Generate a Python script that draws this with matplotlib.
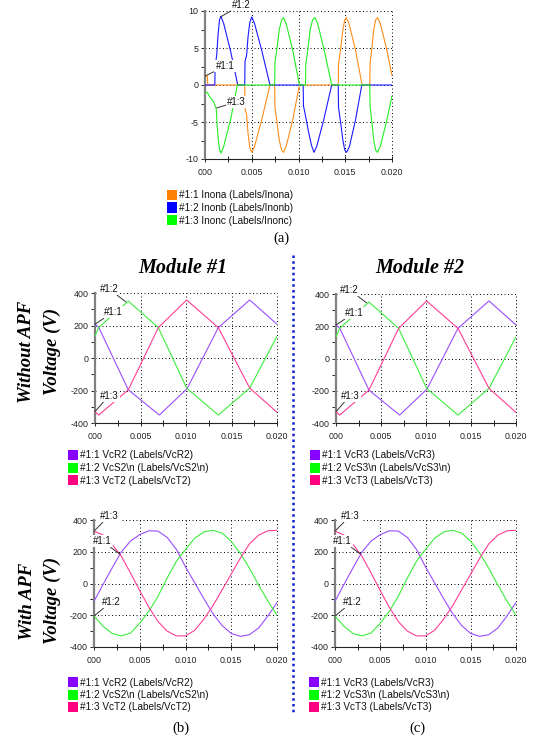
import matplotlib
matplotlib.use('Agg')
import numpy as np
import matplotlib.pyplot as plt
from matplotlib.patches import Rectangle
from matplotlib.lines import Line2D
from matplotlib.ticker import MultipleLocator

plt.rcParams['font.family'] = ['Liberation Sans', 'DejaVu Sans']
plt.rcParams['axes.unicode_minus'] = False

W, H = 536, 737

# ---- (a) supply currents, time in ms ----
t_inona = [0, 0.25, 0.3, 4.25, 4.28, 4.45, 4.6, 4.8, 5.0, 5.3, 6.1, 6.95, 7.45, 7.48, 7.7, 7.95, 8.2, 8.4,
           8.7, 9.4, 10.1, 14.25, 14.28, 14.5, 14.75, 14.95, 15.1, 15.4, 16.1, 16.8, 17.62, 17.66, 17.85,
           18.05, 18.25, 18.45, 18.75, 19.4, 20.0]
inona = [1.2, 1.2, 0, 0, -3.2, -4.0, -6.5, -8.5, -9.1, -8.3, -4.5, 0, 0, -3.0, -5.0, -7.5, -8.8, -9.1,
         -8.2, -4.6, 0, 0, 2.8, 4.8, 7.5, 8.8, 9.1, 8.3, 4.7, 0, 0, 3.0, 5.0,
         7.5, 8.8, 9.1, 8.3, 5.0, 1.3]

t_inonb = [0, 1.05, 1.08, 1.25, 1.4, 1.55, 1.7, 2.0, 2.75, 3.5, 4.25, 4.28, 4.45, 4.6, 4.8, 5.0, 5.3,
           6.1, 6.95, 10.5, 10.53, 10.8, 11.1, 11.4, 11.66, 11.95, 12.7, 13.55, 14.25, 14.28, 14.5,
           14.75, 14.95, 15.15, 15.45, 16.1, 16.77, 20.0]
inonb = [0, 0, 2.5, 4.0, 6.8, 8.8, 9.3, 8.3, 4.5, 0, 0, 3.2, 4.0, 6.5, 8.5, 9.2, 8.3,
         4.5, 0, 0, -2.8, -4.5, -6.5, -8.2, -9.1, -8.3, -4.7, 0, 0, -3.0, -5.0,
         -7.5, -8.8, -9.1, -8.3, -4.7, 0, 0]

t_inonc = [0, 0.25, 0.5, 0.9, 1.2, 1.3, 1.45, 1.6, 1.72, 2.0, 2.75, 3.45, 7.45, 7.48, 7.7, 7.95, 8.2,
           8.4, 8.7, 9.4, 10.1, 10.75, 10.78, 11.0, 11.25, 11.5, 11.75, 12.05, 12.75, 13.55, 17.62,
           17.66, 17.85, 18.05, 18.25, 18.45, 18.75, 19.4, 20.0]
inonc = [-1.0, -1.0, -1.6, -2.2, -3.2, -5.5, -7.8, -8.9, -9.2, -8.3, -4.6, 0, 0, 3.0, 5.0, 7.5, 8.8,
         9.1, 8.2, 4.6, 0, 0, 2.8, 4.8, 7.5, 8.8, 9.1, 8.3, 4.7, 0, 0,
         -3.0, -5.0, -7.5, -8.8, -9.1, -8.3, -5.0, -1.5]

# ---- capacitor voltages without APF (corner points, ms / V) ----
t_wo_r = [0, 0.4, 3.66, 7.07, 10.1, 13.55, 17.0, 20.0]
wo_r = [208, 190, -196, -351, -190, 187, 357, 208]
t_wo_s = [0, 0.4, 3.66, 6.96, 10.07, 13.55, 17.0, 20.0]
wo_s = [134, 187, 350, 187, -185, -351, -185, 134]
t_wo_t = [0, 0.4, 3.66, 6.96, 10.07, 13.55, 17.0, 20.0]
wo_t = [-330, -351, -196, 187, 357, 187, -185, -334]

# ---- capacitor voltages with APF (every 1 ms) ----
t_w = list(range(21))
w_r = [-112, -5, 100, 200, 268, 308, 332, 330, 290, 215, 105, 5, -95, -190, -265, -315, -333,
       -322, -280, -205, -120]
w_s = [-205, -270, -315, -330, -312, -250, -175, -80, 35, 140, 215, 285, 325, 335, 318, 265, 190,
       95, -10, -110, -200]
w_t = [330, 305, 245, 170, 65, -45, -150, -240, -300, -330, -330, -295, -225, -140, -40, 60, 160,
       250, 305, 332, 335]

x_ticks = [0, 0.005, 0.010, 0.015, 0.020]
x_ticklabels = ['000', '0.005', '0.010', '0.015', '0.020']

cur_names = ['#1:1 Inona (Labels/Inona)', '#1:2 Inonb (Labels/Inonb)', '#1:3 Inonc (Labels/Inonc)']
mod1_names = ['#1:1 VcR2 (Labels/VcR2)', '#1:2 VcS2\\n (Labels/VcS2\\n)', '#1:3 VcT2 (Labels/VcT2)']
mod2_names = ['#1:1 VcR3 (Labels/VcR3)', '#1:2 VcS3\\n (Labels/VcS3\\n)', '#1:3 VcT3 (Labels/VcT3)']

cur_colors = ['#ff8c1a', '#1a1aff', '#22ee22']
cur_sq = ['#ff8000', '#0000ff', '#00ff00']
volt_colors = ['#9a4dff', '#3dee3d', '#ff3d96']
volt_sq = ['#8800ff', '#00ff00', '#ff0080']


def ms(t):
    return np.array(t) / 1000.0


def box(l, t, r, b):
    return [l / W, 1 - b / H, (r - l) / W, (b - t) / H]


def style(ax, ylim, ystep, ylabels):
    ax.set_xlim(0, 0.02)
    ax.set_ylim(-ylim, ylim)
    ax.set_xticks(x_ticks)
    ax.set_xticklabels(x_ticklabels)
    ax.xaxis.set_minor_locator(MultipleLocator(0.0025))
    ax.set_yticks(np.arange(-ylim, ylim + 1, ystep))
    ax.set_yticklabels(ylabels)
    ax.yaxis.set_minor_locator(MultipleLocator(ystep / 2))
    for s in ['top', 'right']:
        ax.spines[s].set_visible(False)
    ax.spines['left'].set_color('#808080')
    ax.spines['left'].set_linewidth(1.6)
    ax.spines['bottom'].set_color('#222222')
    ax.spines['bottom'].set_linewidth(0.8)
    ax.tick_params(axis='x', which='both', direction='inout', length=4, width=0.7,
                   labelsize=6.4, pad=4.5, colors='#222222')
    ax.tick_params(axis='y', which='both', direction='out', length=3, width=0.7,
                   labelsize=6.4, pad=1.5, colors='#222222')
    ax.grid(True, which='major', color='k', lw=0.7, ls=(0, (1, 2.6)))
    for gl in ax.get_xgridlines() + ax.get_ygridlines():
        gl.set_clip_on(False)


def tag(ax, text, xy, dx, dy):
    ax.annotate(text, xy=xy, xytext=(dx, dy), textcoords='offset pixels',
                ha='center', va='center', fontsize=7, color='#111111',
                bbox=dict(boxstyle='square,pad=0.12', fc='white', ec='none'),
                arrowprops=dict(arrowstyle='-', color='#333333', lw=0.7,
                                shrinkA=0, shrinkB=0),
                annotation_clip=False, zorder=6)


def legend(x, y0, names, colors, dy=12.5):
    for i, (nm, c) in enumerate(zip(names, colors)):
        y = y0 + i * dy
        fig.patches.append(Rectangle((x / W, 1 - (y + 10) / H), 10 / W, 10 / H,
                                     transform=fig.transFigure, fc=c, ec='none'))
        fig.text((x + 12) / W, 1 - (y + 5.5) / H, nm, fontsize=7.2, va='center',
                 ha='left', color='#111111')


fig = plt.figure(figsize=(W / 100, H / 100), dpi=100)

# (a)
ax = fig.add_axes(box(205, 11, 392, 159))
for tt, vv, c in zip([t_inona, t_inonb, t_inonc], [inona, inonb, inonc], cur_colors):
    ax.plot(ms(tt), vv, color=c, lw=0.8, zorder=3)
style(ax, 10, 5, ['-10', '-5', '0', '5', '10'])
tag(ax, '#1:2', (0.00165, 9.2), 21, 12)
tag(ax, '#1:1', (0.0, 1.2), 20, 10)
tag(ax, '#1:3', (0.00125, -3.1), 20, 6)
legend(167, 190, cur_names, cur_sq)
fig.text(281 / W, 1 - 238 / H, '(a)', family='Liberation Serif', fontsize=10.5,
         ha='center', va='center')

vlabels = ['-400', '-200', '0', '200', '400']
panels = [
    (box(95, 293, 277, 423), 'wo', 68, 450, mod1_names),
    (box(336, 294, 516, 423), 'wo', 310, 450, mod2_names),
    (box(94, 520, 277, 647), 'w', 68, 677, mod1_names),
    (box(335, 520, 516, 647), 'w', 309, 677, mod2_names),
]
for rect, kind, lx, ly, names in panels:
    ax = fig.add_axes(rect)
    if kind == 'wo':
        series = [(t_wo_r, wo_r), (t_wo_s, wo_s), (t_wo_t, wo_t)]
    else:
        series = [(t_w, w_r), (t_w, w_s), (t_w, w_t)]
    for (tt, vv), c in zip(series, volt_colors):
        ax.plot(ms(tt), vv, color=c, lw=0.8, zorder=3)
    style(ax, 400, 200, vlabels)
    if kind == 'wo':
        tag(ax, '#1:2', (0.0034, 345), -17, 13)
        tag(ax, '#1:1', (0.0, 208), 18, 12)
        tag(ax, '#1:3', (0.0, -330), 14, 16)
    else:
        tag(ax, '#1:3', (0.0, 330), 15, 15)
        tag(ax, '#1:1', (0.00284, 185), -18, 13)
        tag(ax, '#1:2', (0.0, -205), 17, 14)
    legend(lx, ly, names, volt_sq)

serif = dict(family='Liberation Serif', weight='bold', style='italic', ha='center', va='center')
fig.text(183 / W, 1 - 268 / H, 'Module #1', fontsize=14.5, **serif)
fig.text(420 / W, 1 - 268 / H, 'Module #2', fontsize=14.5, **serif)
fig.text(27 / W, 1 - 352 / H, 'Without APF', fontsize=13.5, rotation=90, **serif)
fig.text(52 / W, 1 - 351 / H, 'Voltage (V)', fontsize=13.5, rotation=90, **serif)
fig.text(27 / W, 1 - 601 / H, 'With APF', fontsize=13.5, rotation=90, **serif)
fig.text(52 / W, 1 - 600 / H, 'Voltage (V)', fontsize=13.5, rotation=90, **serif)

fig.text(181 / W, 1 - 728 / H, '(b)', family='Liberation Serif', fontsize=10.5,
         ha='center', va='center')
fig.text(417 / W, 1 - 728 / H, '(c)', family='Liberation Serif', fontsize=10.5,
         ha='center', va='center')

fig.add_artist(Line2D([293 / W, 293 / W], [1 - 255 / H, 1 - 715 / H], transform=fig.transFigure,
                      color='#1020d0', lw=1.8, ls=(0, (1, 1.3))))

fig.savefig('out.png', dpi=100)
